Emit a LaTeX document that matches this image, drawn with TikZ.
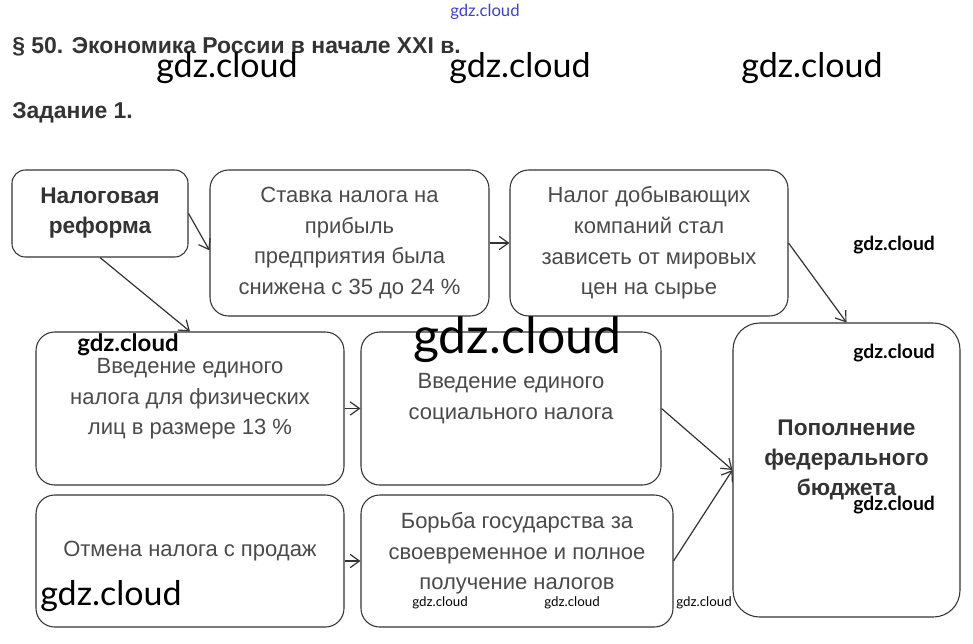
\documentclass[tikz,border=0pt]{standalone}
\usepackage{fontspec}
\setmainfont{Liberation Sans}
\newfontfamily\wmfont{Lato}
\usetikzlibrary{arrows.meta}
\definecolor{ink}{HTML}{333333}
\definecolor{txt}{HTML}{4A4A4A}
\definecolor{wmblue}{HTML}{4040D0}

\begin{document}
\begin{tikzpicture}[
  x=0.75pt,
  y=-0.75pt,
  box/.style={draw=ink, line width=0.8pt, rounded corners=14pt, align=center,
    text=txt, inner sep=0pt, font=\fontsize{16.5}{23}\selectfont},
  strong/.style={text=ink, font=\fontsize{17}{22.5}\selectfont\bfseries},
  lifted/.style={text depth=18pt},
  link/.style={draw=ink, line width=0.9pt, -{Straight Barb[length=7pt,width=10pt]}},
  wm/.style={anchor=west, inner sep=0pt, text=black}
]
  \useasboundingbox (0,0) rectangle (973,643);

  % headings
  \node[anchor=base west, inner sep=0pt, text=ink, font=\fontsize{17.2}{20}\selectfont\bfseries]
    (title) at (12,53) {\S\ 50. Экономика России в начале XXI в.};
  \node[anchor=base west, inner sep=0pt, text=ink, font=\fontsize{17.2}{20}\selectfont\bfseries]
    (task) at (12,118) {Задание 1.};

  % boxes
  \node[box, strong, rounded corners=10pt, minimum width=132pt, minimum height=65.25pt]
    (reform) at (100,213.5) {Налоговая\\реформа};
  \node[box, minimum width=209.25pt, minimum height=109.5pt]
    (stavka) at (349.5,243) {Ставка налога на\\прибыль\\предприятия была\\снижена с 35 до 24 \%};
  \node[box, minimum width=208.5pt, minimum height=109.5pt]
    (dobycha) at (649,243) {Налог добывающих\\компаний стал\\зависеть от мировых\\цен на сырье};
  \node[box, lifted, minimum width=231pt, minimum height=114.75pt]
    (edin) at (190,408.5) {Введение единого\\налога для физических\\лиц в размере 13 \%};
  \node[box, lifted, minimum width=225pt, minimum height=114.75pt]
    (social) at (511,408.5) {Введение единого\\социального налога};
  \node[box, lifted, minimum width=231pt, minimum height=99pt]
    (otmena) at (190,561) {Отмена налога с продаж};
  \node[box, text depth=15pt, minimum width=234pt, minimum height=99pt]
    (borba) at (517,561) {Борьба государства за\\своевременное и полное\\получение налогов};
  \node[box, strong, lifted, rounded corners=20pt, minimum width=170.25pt, minimum height=220.5pt]
    (budget) at (846.5,470) {Пополнение\\федерального\\бюджета};

  % links
  \draw[link] (reform.east) -- (stavka.183);
  \draw[link] (reform.south) -- (edin.north);
  \draw[link] (stavka.east) -- (dobycha.west);
  \draw[link] (dobycha.east) -- (budget.north);
  \draw[link] (edin.east) -- (social.west);
  \draw[link] (social.east) -- (budget.west);
  \draw[link] (otmena.east) -- (borba.west);
  \draw[link] (borba.east) -- (budget.west);

  % watermarks
  \node[wm, text=wmblue, font=\wmfont\fontsize{12.5}{14}\selectfont] (wm0) at (450,12) {gdz.cloud};
  \node[wm, font=\wmfont\fontsize{25.5}{30}\selectfont] (wm1) at (156,68) {gdz.cloud};
  \node[wm, font=\wmfont\fontsize{25.5}{30}\selectfont] (wm2) at (449,68) {gdz.cloud};
  \node[wm, font=\wmfont\fontsize{25.5}{30}\selectfont] (wm3) at (741,68) {gdz.cloud};
  \node[wm, font=\wmfont\fontsize{14.5}{17}\selectfont\bfseries] (wm4) at (853,245) {gdz.cloud};
  \node[wm, font=\wmfont\fontsize{18}{21}\selectfont\bfseries] (wm5) at (77,345) {gdz.cloud};
  \node[wm, font=\wmfont\fontsize{37.5}{44}\selectfont] (wm6) at (413,340) {gdz.cloud};
  \node[wm, font=\wmfont\fontsize{14.5}{17}\selectfont\bfseries] (wm7) at (853,353) {gdz.cloud};
  \node[wm, font=\wmfont\fontsize{14.5}{17}\selectfont\bfseries] (wm8) at (853,505) {gdz.cloud};
  \node[wm, font=\wmfont\fontsize{25.5}{30}\selectfont] (wm9) at (40,596) {gdz.cloud};
  \node[wm, font=\wmfont\fontsize{10}{12}\selectfont] (wm10) at (412,603) {gdz.cloud};
  \node[wm, font=\wmfont\fontsize{10}{12}\selectfont] (wm11) at (544,603) {gdz.cloud};
  \node[wm, font=\wmfont\fontsize{10}{12}\selectfont] (wm12) at (676,603) {gdz.cloud};
\end{tikzpicture}
\end{document}
